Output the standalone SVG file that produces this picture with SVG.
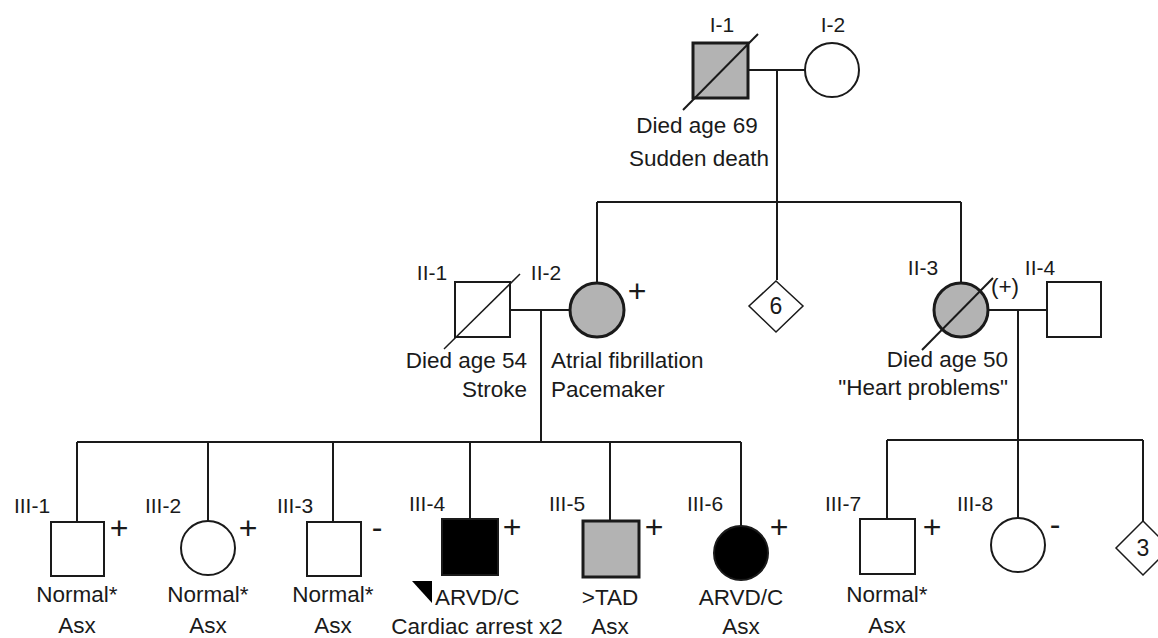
<svg xmlns="http://www.w3.org/2000/svg" width="1158" height="638" viewBox="0 0 1158 638">
<style>
text{font-family:"Liberation Sans",Arial,sans-serif;font-size:22.5px;fill:#1a1a1a}
.lb{font-size:21px}
.pm{font-size:32px}
.num{font-size:23px}
.m{text-anchor:middle}
.e{text-anchor:end}
.ln{stroke:#1a1a1a;stroke-width:2;fill:none}
.sh{stroke:#1a1a1a;stroke-width:2;fill:#fff}
.thick{stroke-width:3}
.gray{fill:#b3b3b3}
.blk{fill:#000}
.sl{stroke:#1a1a1a;stroke-width:2}
</style>
<rect width="1158" height="638" fill="#fff"/>
<g id="connectors" class="ln">
<path d="M748 70H805M777 70V202M597 202H961M597 202V283M777 202V280M961 202V283"/>
<path d="M510 310H570M541 310V442M77 442H741M77 442V522M208 442V521M333 442V522M470 442V519M610 442V521M741 442V526"/>
<path d="M988 310H1047M1018 310V440M887 440H1143M887 440V519M1018 440V518M1143 440V521"/>
</g>
<g id="I-1">
<rect x="693" y="43" width="55" height="55" class="sh gray thick"/>
<line x1="683" y1="110" x2="758" y2="34" class="sl"/>
<text x="722" y="32" class="m lb">I-1</text>
<text x="697" y="133" class="m">Died age 69</text>
<text x="699" y="166" class="m">Sudden death</text>
</g>
<g id="I-2">
<circle cx="832" cy="70" r="27" class="sh"/>
<text x="833" y="32" class="m lb">I-2</text>
</g>
<g id="II-1">
<rect x="455" y="282" width="55" height="55" class="sh"/>
<line x1="444" y1="349" x2="520" y2="274" class="sl" style="stroke-width:1.5"/>
<text x="432" y="280" class="m lb">II-1</text>
<text x="527" y="368" class="e">Died age 54</text>
<text x="527" y="397" class="e">Stroke</text>
</g>
<g id="II-2">
<circle cx="597" cy="310" r="27" class="sh gray thick"/>
<text x="546" y="280" class="m lb">II-2</text>
<text x="637" y="302" class="m pm">+</text>
<text x="551" y="368">Atrial fibrillation</text>
<text x="551" y="397">Pacemaker</text>
</g>
<g id="II-sibs6">
<polygon points="776,281 803,306 776,332 749,306" class="sh" style="stroke-width:1.5"/>
<text x="776" y="314" class="m num">6</text>
</g>
<g id="II-3">
<circle cx="961" cy="310" r="27" class="sh gray thick"/>
<line x1="922" y1="350" x2="993" y2="278" class="sl"/>
<text x="923" y="275" class="m lb">II-3</text>
<text x="1005" y="294" class="m">(+)</text>
<text x="1008" y="367" class="e">Died age 50</text>
<text x="1008" y="395" class="e">"Heart problems"</text>
</g>
<g id="II-4">
<rect x="1047" y="282" width="54" height="55" class="sh"/>
<text x="1040" y="275" class="m lb">II-4</text>
</g>
<g id="III-1">
<rect x="51" y="522" width="53" height="54" class="sh"/>
<text x="32" y="513" class="m lb">III-1</text>
<text x="119" y="539" class="m pm">+</text>
<text x="77" y="602" class="m">Normal*</text>
<text x="77" y="633" class="m">Asx</text>
</g>
<g id="III-2">
<circle cx="208" cy="548" r="27" class="sh"/>
<text x="163" y="513" class="m lb">III-2</text>
<text x="248" y="539" class="m pm">+</text>
<text x="208" y="602" class="m">Normal*</text>
<text x="208" y="633" class="m">Asx</text>
</g>
<g id="III-3">
<rect x="307" y="522" width="54" height="54" class="sh"/>
<text x="295" y="513" class="m lb">III-3</text>
<text x="377" y="538" class="m pm">-</text>
<text x="333" y="602" class="m">Normal*</text>
<text x="333" y="633" class="m">Asx</text>
</g>
<g id="III-4">
<rect x="442" y="519" width="56" height="56" class="sh blk"/>
<text x="427" y="511" class="m lb">III-4</text>
<text x="512" y="538" class="m pm">+</text>
<polygon points="412,581 432,581 432,603" fill="#000"/>
<text x="435" y="605">ARVD/C</text>
<text x="477" y="634" class="m">Cardiac arrest x2</text>
</g>
<g id="III-5">
<rect x="583" y="521" width="56" height="56" class="sh gray thick"/>
<text x="567" y="511" class="m lb">III-5</text>
<text x="654" y="538" class="m pm">+</text>
<text x="610" y="605" class="m">&gt;TAD</text>
<text x="610" y="634" class="m">Asx</text>
</g>
<g id="III-6">
<circle cx="741" cy="553" r="27" class="sh blk"/>
<text x="705" y="511" class="m lb">III-6</text>
<text x="779" y="538" class="m pm">+</text>
<text x="741" y="605" class="m">ARVD/C</text>
<text x="741" y="634" class="m">Asx</text>
</g>
<g id="III-7">
<rect x="860" y="519" width="55" height="55" class="sh"/>
<text x="843" y="511" class="m lb">III-7</text>
<text x="932" y="538" class="m pm">+</text>
<text x="887" y="602" class="m">Normal*</text>
<text x="887" y="633" class="m">Asx</text>
</g>
<g id="III-8">
<circle cx="1018" cy="545" r="27" class="sh"/>
<text x="975" y="511" class="m lb">III-8</text>
<text x="1055" y="535" class="m pm">-</text>
</g>
<g id="III-sibs3">
<polygon points="1143,521 1170,548 1143,575 1116,548" class="sh" style="stroke-width:1.5"/>
<text x="1143" y="556" class="m num">3</text>
</g>
</svg>
